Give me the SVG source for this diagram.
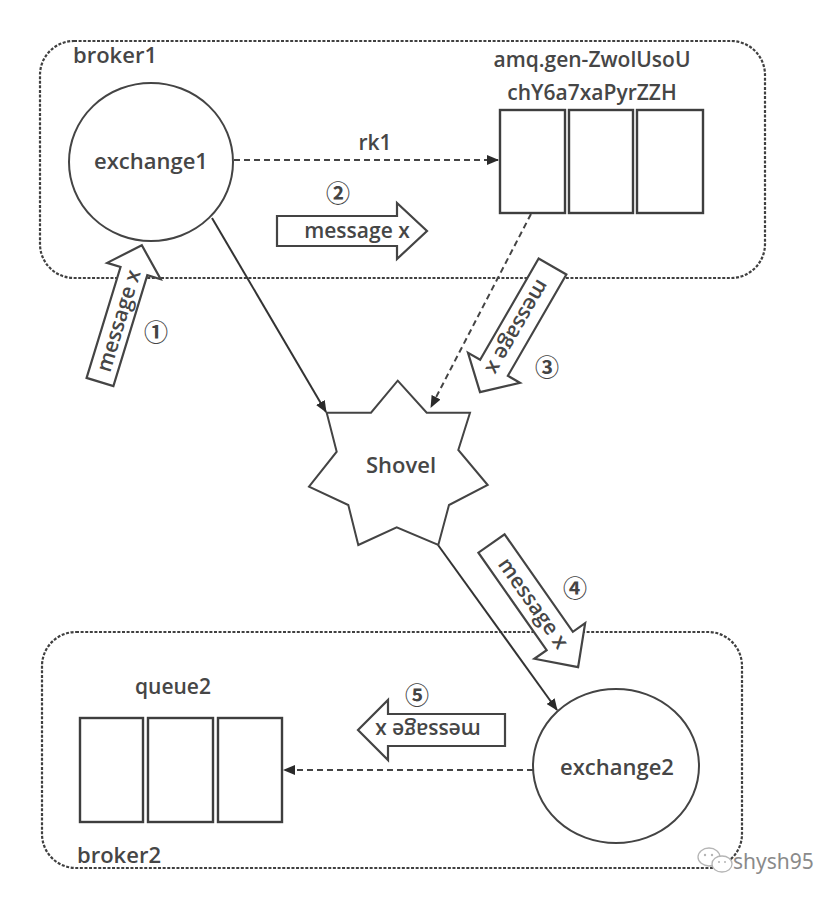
<svg xmlns="http://www.w3.org/2000/svg" width="832" height="900" viewBox="0 0 832 900">
<defs>
<style>
.lbl{font-family:"Open Sans","Liberation Sans",sans-serif;font-size:21px;font-weight:600;fill:#464646;}
.mid{text-anchor:middle;}
.num{font-family:"Noto Sans CJK SC","DejaVu Sans",sans-serif;font-size:24px;font-weight:bold;fill:#444;text-anchor:middle;}
.broker{fill:none;stroke:#404040;stroke-width:2.2;stroke-dasharray:3 1.6;}
.shape{fill:#fff;stroke:#444;stroke-width:2;}
.cell{fill:#fff;stroke:#3e3e3e;stroke-width:2.4;}
.solid{fill:none;stroke:#333;stroke-width:2;}
.dash{fill:none;stroke:#444;stroke-width:2;stroke-dasharray:6 4;}
.blk{fill:#fff;stroke:#444;stroke-width:2.2;}
</style>
<marker id="ah" viewBox="0 0 12 10" refX="11" refY="5" markerWidth="12" markerHeight="10" markerUnits="userSpaceOnUse" orient="auto">
<path d="M0,0 L12,5 L0,10 Z" fill="#2a2a2a"/>
</marker>
</defs>
<rect width="832" height="900" fill="#fff"/>

<g id="broker1">
<rect class="broker" x="40" y="41" width="725" height="237" rx="34" ry="34"/>
<text class="lbl" x="73" y="63" style="font-size:22px">broker1</text>
</g>
<g id="broker2">
<rect class="broker" x="42" y="632" width="700" height="236" rx="34" ry="34"/>
<text class="lbl" x="77" y="863" style="font-size:22px">broker2</text>
</g>

<g id="connectors">
<line class="dash" x1="234" y1="160" x2="498" y2="160" marker-end="url(#ah)"/>
<text class="lbl mid" x="375" y="150">rk1</text>
<line class="solid" x1="212" y1="218" x2="326" y2="412" marker-end="url(#ah)"/>
<line class="dash" x1="531" y1="214" x2="431" y2="407" marker-end="url(#ah)"/>
<line class="solid" x1="438" y1="545" x2="557" y2="710" marker-end="url(#ah)"/>
<line class="dash" x1="533" y1="770" x2="284" y2="770" marker-end="url(#ah)"/>
</g>

<g id="exchange1">
<ellipse class="shape" cx="151" cy="162" rx="82" ry="79"/>
<text class="lbl mid" x="151" y="169" style="font-size:22px">exchange1</text>
</g>

<g id="amq-queue">
<text class="lbl mid" x="592" y="67">amq.gen-ZwolUsoU</text>
<text class="lbl mid" x="592" y="100">chY6a7xaPyrZZH</text>
<rect class="cell" x="500" y="110" width="65" height="103"/>
<rect class="cell" x="569" y="110" width="64" height="103"/>
<rect class="cell" x="637" y="110" width="66" height="103"/>
</g>

<g id="shovel">
<path class="shape" d="M397.7,380.7 L426.7,412.7 L470,412.7 L458.3,450 L487.7,485 L449,505 L438.3,545 L396.7,527.3 L358.3,545 L348.3,505 L309,486.7 L336.7,451.7 L326.7,412.7 L371,412.7 Z"/>
<text class="lbl mid" x="401" y="473" style="font-size:22px">Shovel</text>
</g>

<g id="exchange2">
<ellipse class="shape" cx="616" cy="766" rx="83" ry="77"/>
<text class="lbl mid" x="617" y="775" style="font-size:22px">exchange2</text>
</g>

<g id="queue2">
<text class="lbl mid" x="173" y="694">queue2</text>
<rect class="cell" x="80" y="718" width="63" height="104"/>
<rect class="cell" x="148" y="718" width="65" height="104"/>
<rect class="cell" x="218" y="718" width="64" height="104"/>
</g>

<g id="msg1">
<g transform="translate(100,382) rotate(-73)">
<path class="blk" d="M0,-14 L116,-14 L116,-28 L143,0 L116,28 L116,14 L0,14 Z"/>
<text class="lbl mid" x="64" y="7">message x</text>
</g>
<text class="num" x="156" y="341">①</text>
</g>

<g id="msg2">
<g transform="translate(277,231)">
<path class="blk" d="M0,-15 L120,-15 L120,-28 L150,0 L120,28 L120,15 L0,15 Z"/>
<text class="lbl mid" x="80" y="7">message x</text>
</g>
<text class="num" x="338" y="202">②</text>
</g>

<g id="msg3">
<g transform="translate(552.5,266.5) rotate(120)">
<path class="blk" d="M0,-16 L117,-16 L117,-30 L145,0 L117,30 L117,16 L0,16 Z"/>
<text class="lbl mid" x="70" y="7">message x</text>
</g>
<text class="num" x="547" y="376">③</text>
</g>

<g id="msg4">
<g transform="translate(491.5,543.5) rotate(55)">
<path class="blk" d="M0,-16 L119,-16 L119,-31 L151,0 L119,31 L119,16 L0,16 Z"/>
<text class="lbl mid" x="73" y="7">message x</text>
</g>
<text class="num" x="575" y="597">④</text>
</g>

<g id="msg5">
<g transform="translate(505,730) rotate(180)">
<path class="blk" d="M0,-16 L117,-16 L117,-30 L147,0 L117,30 L117,16 L0,16 Z"/>
<text class="lbl mid" x="77" y="7">message x</text>
</g>
<text class="num" x="417" y="704">⑤</text>
</g>

<g id="watermark">
<ellipse cx="709" cy="857" rx="11" ry="9" fill="none" stroke="#b5b5b5" stroke-width="1.3"/>
<ellipse cx="722" cy="864" rx="10" ry="8" fill="#fff" stroke="#b5b5b5" stroke-width="1.3"/>
<circle cx="705" cy="855" r="1.2" fill="#b5b5b5"/>
<circle cx="712" cy="855" r="1.2" fill="#b5b5b5"/>
<circle cx="719" cy="862" r="1" fill="#b5b5b5"/>
<circle cx="725" cy="862" r="1" fill="#b5b5b5"/>
<text x="733" y="869" style="font-family:'Noto Sans','Liberation Sans',sans-serif;font-size:21px;fill:#8a8a8a;">shysh95</text>
</g>
</svg>
